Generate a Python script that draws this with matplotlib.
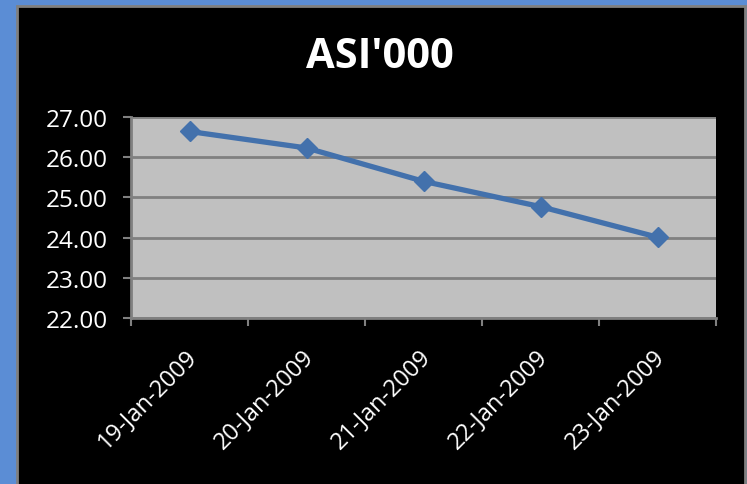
import matplotlib.pyplot as plt
import matplotlib.patches as patches
import matplotlib.transforms as mtransforms
import numpy as np

dates = ['19-Jan-2009', '20-Jan-2009', '21-Jan-2009', '22-Jan-2009', '23-Jan-2009']
asi = [26.64, 26.23, 25.40, 24.77, 24.01]
y_ticks = [22, 23, 24, 25, 26, 27]

plt.rcParams['font.family'] = ['Open Sans', 'DejaVu Sans']

fig = plt.figure(figsize=(7.47, 4.85), dpi=100)
fig.patch.set_facecolor('#5B8DD5')

# black chart panel with grey edge
panel = patches.Rectangle((16.5 / 747, -0.1), (745 - 16.5) / 747, 1.1 - 7 / 485,
                          transform=fig.transFigure, facecolor='black',
                          edgecolor='#808080', linewidth=2, zorder=-5)
fig.patches.append(panel)

ax = fig.add_axes([131 / 747, 1 - 319 / 485, (716 - 131) / 747, (319 - 118) / 485])
ax.set_zorder(2)
ax.set_facecolor('#C0C0C0')

x = np.arange(len(dates))
ax.plot(x, asi, color='#4371AC', linewidth=3.8, marker='D', markersize=10,
        zorder=3, solid_capstyle='round')

ax.set_xlim(-0.5, len(dates) - 0.5)
ax.set_ylim(22, 27)
ax.set_yticks(y_ticks)
ax.set_yticklabels(['%.2f' % v for v in y_ticks])
ax.yaxis.grid(True, color='#808080', linewidth=2)
ax.set_axisbelow(True)

# ticks between categories, labels at centres
ax.set_xticks(np.arange(-0.5, len(dates), 1.0))
ax.set_xticklabels([])
ax.set_xticks(x, minor=True)
ax.set_xticklabels(dates, minor=True, rotation=45, ha='right', rotation_mode='anchor')
ax.tick_params(axis='x', which='minor', length=0, pad=19, labelsize=17, labelcolor='white')
ax.tick_params(axis='x', which='major', length=6, width=1.5, color='#808080')
ax.tick_params(axis='y', length=6, width=1.5, color='#808080', labelsize=17.5,
               labelcolor='white', pad=11)

# nudge the rotated date labels a little to the left
shift = mtransforms.ScaledTranslation(-5 / 100, 0, fig.dpi_scale_trans)
for lbl in ax.get_xticklabels(minor=True):
    lbl.set_transform(lbl.get_transform() + shift)

for s in ['top', 'right']:
    ax.spines[s].set_visible(False)
for s in ['left', 'bottom']:
    ax.spines[s].set_color('#808080')
    ax.spines[s].set_linewidth(2)

fig.text(380 / 747, 1 - 57 / 485, "ASI'000", color='white', fontsize=30,
         fontweight='bold', ha='center', va='center', zorder=3)

fig.savefig('out.png', dpi=100, facecolor=fig.get_facecolor())
